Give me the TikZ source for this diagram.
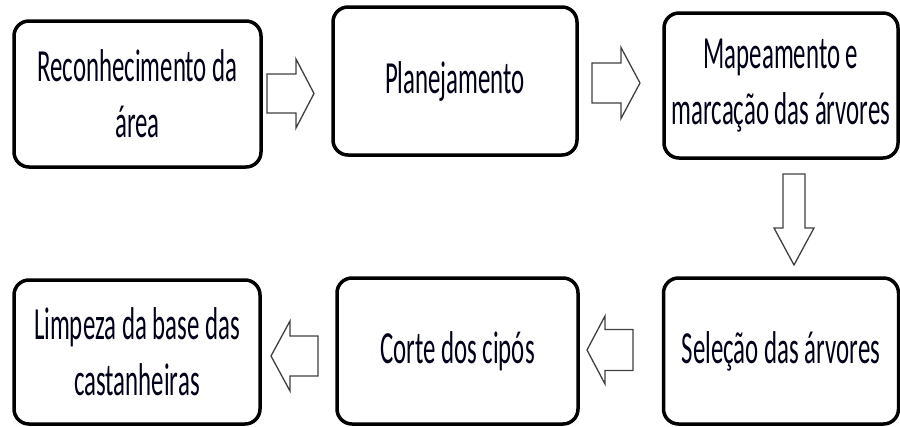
\documentclass[tikz,border=0pt]{standalone}
\usepackage{fontspec}
\setmainfont{Carlito}[FakeStretch=0.54]
\begin{document}
\begin{tikzpicture}[x=1pt,y=-1pt,
  stepbox/.style={draw=black, line width=3.5pt, rounded corners=15pt, fill=white,
    align=center, inner sep=0pt, text=black!90!blue,
    font=\fontsize{46}{56}\selectfont},
  arrowline/.style={draw=black!75, line width=1.3pt, fill=white, line join=miter},
  pics/blockarrow/.style n args={4}{code={
    % length, shaft half-width, head half-width, head length
    \path[arrowline] (0,-#2) -- ({#1-#4},-#2) -- ({#1-#4},-#3) -- (#1,0)
      -- ({#1-#4},#3) -- ({#1-#4},#2) -- (0,#2) -- cycle;
  }}]
\useasboundingbox (0,0) rectangle (900,426);

% process steps
\node[stepbox, minimum width=247pt, minimum height=146pt] (recon) at (137.5,94)
  {Reconhecimento da\\área};
\node[stepbox, minimum width=244pt, minimum height=148pt] (plan) at (455,81)
  {Planejamento};
\node[stepbox, minimum width=234pt, minimum height=145pt] (mapa) at (781,85.5)
  {Mapeamento e\\marcação das árvores};
\node[stepbox, minimum width=235pt, minimum height=146pt] (selec) at (781,351)
  {Seleção das árvores};
\node[stepbox, minimum width=241pt, minimum height=146pt] (corte) at (457.5,351)
  {Corte dos cipós};
\node[stepbox, minimum width=246pt, minimum height=144pt] (limp) at (137,352)
  {Limpeza da base das\\castanheiras};

% block arrows between the steps
\pic at (267,93.5) {blockarrow={47}{19.5}{34.5}{18}};
\pic at (592,83) {blockarrow={48}{20}{35.5}{19}};
\pic[rotate=-90] at (794,174) {blockarrow={91}{11}{20}{37}};
\pic[rotate=180] at (633,350) {blockarrow={46}{20.5}{34}{18}};
\pic[rotate=180] at (318,356) {blockarrow={47}{20}{35}{19}};
\end{tikzpicture}
\end{document}
